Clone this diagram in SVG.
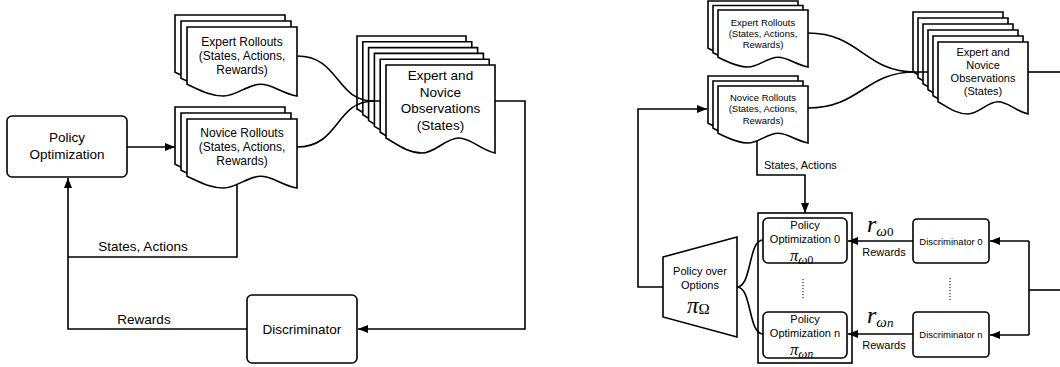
<svg xmlns="http://www.w3.org/2000/svg" xmlns:xlink="http://www.w3.org/1999/xlink" width="1060" height="367" viewBox="0 0 1060 367">
<style>
.sh{fill:#fff;stroke:#000;stroke-width:1.6}
.bx{fill:#fff;stroke:#000;stroke-width:1.6}
.ln{fill:none;stroke:#000;stroke-width:1.6}
.dot{fill:none;stroke:#000;stroke-width:1;stroke-dasharray:1.2,1.8}
.t{font-family:"Liberation Sans",Arial,sans-serif;fill:#000;text-anchor:middle}
.m{font-family:"Liberation Serif","Times New Roman",serif;font-style:italic;fill:#000}
</style>
<defs>
<marker id="ah" markerUnits="userSpaceOnUse" markerWidth="10" markerHeight="8" refX="10" refY="4" orient="auto">
<path d="M0,0L10,4L0,8Z" fill="#000"/>
</marker>
<path id="docA" class="sh" d="M0,0H110V69C94.6,66.2 85.8,57.3 73.4,57.3C60.5,57.3 49.5,69 36.6,69C22,69 11,62.1 0,57.3Z"/>
<path id="docB" class="sh" d="M0,0H109V88C93.7,84.5 85,73 72.7,73C60,73 49,88 36.3,88C21.8,88 10.9,79.2 0,73Z"/>
<path id="docC" class="sh" d="M0,0H90V57C77.4,54.7 70.2,47.3 60,47.3C49.5,47.3 40.5,57 30,57C18,57 9,51.3 0,47.3Z"/>
<path id="docD" class="sh" d="M0,0H90V72C77.4,69.1 70.2,59.8 60,59.8C49.5,59.8 40.5,72 30,72C18,72 9,64.8 0,59.8Z"/>
</defs>
<rect width="1060" height="367" fill="#fff"/>

<!-- LEFT DIAGRAM -->
<g id="policy-optimization">
<rect class="bx" x="7" y="116" width="120" height="61" rx="5"/>
<text class="t" font-size="13.5" x="67" y="142">Policy</text>
<text class="t" font-size="13.5" x="67" y="159">Optimization</text>
</g>
<g id="expert-rollouts-left">
<use xlink:href="#docA" x="175" y="15"/>
<use xlink:href="#docA" x="181" y="21"/>
<use xlink:href="#docA" x="187" y="27"/>
<text class="t" font-size="12" x="242" y="46">Expert Rollouts</text>
<text class="t" font-size="12" x="242" y="60">(States, Actions,</text>
<text class="t" font-size="12" x="242" y="74">Rewards)</text>
</g>
<g id="novice-rollouts-left">
<use xlink:href="#docA" x="175" y="107"/>
<use xlink:href="#docA" x="181" y="113"/>
<use xlink:href="#docA" x="187" y="119"/>
<text class="t" font-size="12" x="242" y="137">Novice Rollouts</text>
<text class="t" font-size="12" x="242" y="151">(States, Actions,</text>
<text class="t" font-size="12" x="242" y="165">Rewards)</text>
</g>
<g id="observations-left">
<use xlink:href="#docB" x="357" y="36"/>
<use xlink:href="#docB" x="362.8" y="41.8"/>
<use xlink:href="#docB" x="368.6" y="47.6"/>
<use xlink:href="#docB" x="374.4" y="53.4"/>
<use xlink:href="#docB" x="380.2" y="59.2"/>
<use xlink:href="#docB" x="386" y="65"/>
<text class="t" font-size="13.5" x="440.5" y="80">Expert and</text>
<text class="t" font-size="13.5" x="440.5" y="97">Novice</text>
<text class="t" font-size="13.5" x="440.5" y="113">Observations</text>
<text class="t" font-size="13.5" x="440.5" y="130">(States)</text>
</g>
<g id="discriminator-left">
<rect class="bx" x="247" y="295" width="110" height="68" rx="5"/>
<text class="t" font-size="13.5" x="302" y="334">Discriminator</text>
</g>

<!-- RIGHT DIAGRAM -->
<g id="expert-rollouts-right">
<use xlink:href="#docC" x="708" y="1"/>
<use xlink:href="#docC" x="713" y="5.5"/>
<use xlink:href="#docC" x="718" y="10"/>
<text class="t" font-size="9.5" x="763" y="25.5">Expert Rollouts</text>
<text class="t" font-size="9.5" x="763" y="36.5">(States, Actions,</text>
<text class="t" font-size="9.5" x="763" y="47.5">Rewards)</text>
</g>
<g id="novice-rollouts-right">
<use xlink:href="#docC" x="708" y="76"/>
<use xlink:href="#docC" x="713" y="81"/>
<use xlink:href="#docC" x="718" y="86"/>
<text class="t" font-size="9.5" x="763" y="100.5">Novice Rollouts</text>
<text class="t" font-size="9.5" x="763" y="111.5">(States, Actions,</text>
<text class="t" font-size="9.5" x="763" y="123.5">Rewards)</text>
</g>
<g id="observations-right">
<use xlink:href="#docD" x="913" y="12"/>
<use xlink:href="#docD" x="918" y="18"/>
<use xlink:href="#docD" x="923" y="24"/>
<use xlink:href="#docD" x="928" y="30"/>
<use xlink:href="#docD" x="933" y="36"/>
<use xlink:href="#docD" x="938" y="42"/>
<text class="t" font-size="11" x="983" y="56">Expert and</text>
<text class="t" font-size="11" x="983" y="69">Novice</text>
<text class="t" font-size="11" x="983" y="82">Observations</text>
<text class="t" font-size="11" x="983" y="95">(States)</text>
</g>
<g id="policy-over-options">
<polygon class="bx" points="663,257 737,237 737,337 663,317"/>
<text class="t" font-size="11" x="700" y="275">Policy over</text>
<text class="t" font-size="11" x="700" y="289">Options</text>
<text class="m" font-size="23" x="687" y="313">π<tspan font-size="15" font-style="normal" dy="1">Ω</tspan></text>
</g>
<g id="options-container">
<rect class="ln" x="758" y="213" width="94" height="150"/>
<line class="dot" x1="803" y1="279" x2="803" y2="300"/>
</g>
<g id="policy-optimization-0">
<rect class="bx" x="763" y="218" width="84" height="45" rx="5"/>
<text class="t" font-size="11" x="805" y="229">Policy</text>
<text class="t" font-size="11" x="805" y="243">Optimization 0</text>
<text class="m" font-size="16.5" x="790" y="261">π<tspan font-size="13" dy="2.5">ω</tspan><tspan font-size="11.5" font-style="normal">0</tspan></text>
</g>
<g id="policy-optimization-n">
<rect class="bx" x="763" y="312" width="84" height="46" rx="5"/>
<text class="t" font-size="11" x="805" y="323">Policy</text>
<text class="t" font-size="11" x="805" y="337">Optimization n</text>
<text class="m" font-size="16.5" x="790" y="355">π<tspan font-size="13" dy="2.5">ω</tspan><tspan font-size="11.5">n</tspan></text>
</g>
<g id="discriminator-0">
<rect class="bx" x="913" y="219" width="76" height="44" rx="4"/>
<text class="t" font-size="9.5" x="951" y="244.5">Discriminator 0</text>
</g>
<g id="discriminator-n">
<rect class="bx" x="913" y="312" width="76" height="45" rx="4"/>
<text class="t" font-size="9.5" x="951" y="337.5">Discriminator n</text>
</g>
<line class="dot" x1="950" y1="278" x2="950" y2="300"/>

<!-- CONNECTORS -->
<g id="connectors">
<path class="ln" d="M127,147H175" marker-end="url(#ah)"/>
<path class="ln" d="M297,56C340,56 335,101 374,101H380"/>
<path class="ln" d="M297,147C340,147 335,101 374,101"/>
<path class="ln" d="M495,101H525V329H358" marker-end="url(#ah)"/>
<path class="ln" d="M247,329H68V178" marker-end="url(#ah)"/>
<path class="ln" d="M237,185V257H68"/>
<text class="t" font-size="13.5" x="143" y="251">States, Actions</text>
<text class="t" font-size="13.5" x="144" y="324">Rewards</text>

<path class="ln" d="M808,33C860,33 865,72 915,72H928"/>
<path class="ln" d="M808,108C860,108 865,72 915,72"/>
<path class="ln" d="M1028,72H1060"/>
<path class="ln" d="M663,287H638V109H707" marker-end="url(#ah)"/>
<path class="ln" d="M757,141V175H805V213" marker-end="url(#ah)"/>
<text font-family="Liberation Sans,Arial,sans-serif" font-size="11" x="764" y="169">States, Actions</text>
<path class="ln" d="M737,287C752,287 748,240 763,240"/>
<path class="ln" d="M737,287C752,287 748,334 763,334"/>
<path class="ln" d="M913,241H848" marker-end="url(#ah)"/>
<path class="ln" d="M913,334H848" marker-end="url(#ah)"/>
<path class="ln" d="M1060,290H1029"/>
<path class="ln" d="M1029,241V335"/>
<path class="ln" d="M1029,241H990" marker-end="url(#ah)"/>
<path class="ln" d="M1029,335H990" marker-end="url(#ah)"/>
<text class="m" font-size="24" x="867" y="232">r<tspan font-size="15" dy="4">ω</tspan><tspan font-size="13" font-style="normal">0</tspan></text>
<text class="t" font-size="11" x="884" y="256">Rewards</text>
<text class="m" font-size="24" x="867" y="323">r<tspan font-size="15" dy="4">ω</tspan><tspan font-size="13">n</tspan></text>
<text class="t" font-size="11" x="884" y="349">Rewards</text>
</g>
</svg>
